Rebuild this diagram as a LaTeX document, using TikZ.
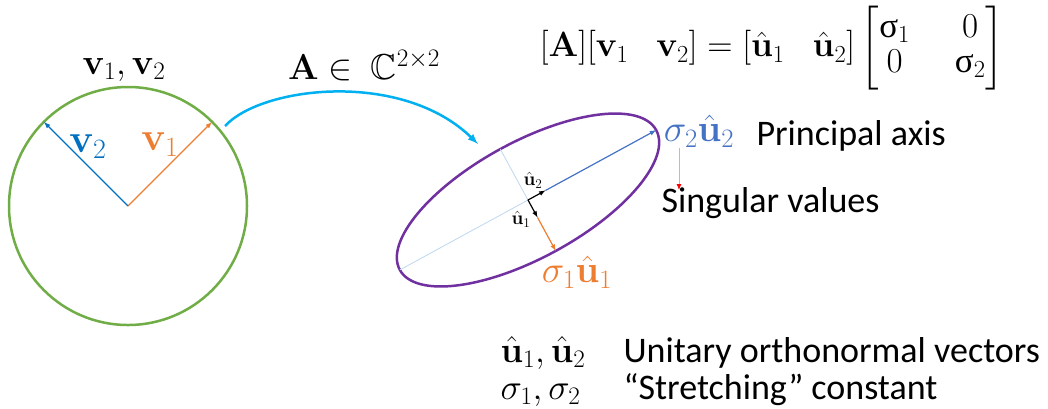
\documentclass[tikz,border=0pt]{standalone}
\usepackage{fix-cm}
\usepackage{amsmath}
\usepackage{amssymb}
\usepackage[no-math]{fontspec}
\setmainfont{Carlito}
\newfontfamily\greekserif{Liberation Serif}
\usetikzlibrary{calc}
\usetikzlibrary{arrows.meta}

\definecolor{cgreen}{HTML}{70AD47}
\definecolor{cblue}{HTML}{0070C0}
\definecolor{cbluetwo}{HTML}{4472C4}
\definecolor{corange}{HTML}{ED7D31}
\definecolor{ccyan}{HTML}{00B0F0}
\definecolor{cpurple}{HTML}{7030A0}
\definecolor{clight}{HTML}{BDD7EE}
\definecolor{cpink}{HTML}{FF9F9F}

\newcommand{\fs}[1]{\fontsize{#1}{#1}\selectfont}
\newcommand{\usig}{\text{\greekserif σ}}

\begin{document}
\begin{tikzpicture}[x=1pt, y=-1pt]
    \useasboundingbox (0,0) rectangle (1048,408);
    
    % circle with the two input vectors
    \coordinate (O) at (128, 206);
    \coordinate (V1) at ($(O)+(84,-84)$);
    \coordinate (V2) at ($(O)+(-84,-84)$);
    \draw[cgreen, line width=2.5pt] (O) circle (119pt);
    \draw[corange, line width=1.2pt, -latex] (O) -- (V1);
    \draw[cblue, line width=1.2pt, -latex] (O) -- (V2);
    \node[corange, font=\fs{40}] (v1lbl) at (160,145) {$\mathbf{v}_1$};
    \node[cblue, font=\fs{40}] (v2lbl) at (88,147) {$\mathbf{v}_2$};
    \node[font=\fs{36}] (vlbl) at (124,70) {$\mathbf{v}_1, \mathbf{v}_2$};
    
    % mapping arrow
    \coordinate (P) at (225, 126);
    \coordinate (Q) at (478, 144);
    \draw[ccyan, line width=2.5pt, -latex] (P) .. controls (262,86) and (402,70) .. (Q);
    \node[font=\fs{36}] (albl) at (364,66) {$\mathbf{A}\in\ \mathbb{C}^{2\times 2}$};
    
    % ellipse with the output vectors
    \begin{scope}[shift={(528,200)}, rotate=28.6]
        \coordinate (E) at (0,0);
        \coordinate (M1) at (146,0);
        \coordinate (M2) at (-146,0);
        \coordinate (N1) at (0,-58);
        \coordinate (N2) at (0,58);
        \coordinate (U1) at (0,20);
        \coordinate (U2) at (20,0);
        \draw[cpurple, line width=2.5pt] (E) ellipse [x radius=146pt, y radius=58pt];
        \draw[clight, line width=0.8pt] (M2) -- (E) -- (N1);
        \draw[cbluetwo, line width=1.2pt, -latex] (U2) -- (M1);
        \draw[corange, line width=1.2pt, -latex] (U1) -- (N2);
        \draw[black, line width=1.2pt, -latex] (E) -- (U2);
        \draw[black, line width=1.2pt, -latex] (E) -- (U1);
    \end{scope}
    \node[font=\fs{19}] (u2lbl) at (533,180) {$\hat{\mathbf{u}}_2$};
    \node[font=\fs{19}] (u1lbl) at (521,219) {$\hat{\mathbf{u}}_1$};
    \node[corange, font=\fs{38}] (s1u1) at (577,272) {$\sigma_1\hat{\mathbf{u}}_1$};
    \node[cbluetwo, font=\fs{38}] (s2u2) at (699,131) {$\sigma_2\hat{\mathbf{u}}_2$};
    \node[anchor=base west, font=\fs{36}] (paxis) at (753,145) {Principal axis};
    \node[anchor=base west, font=\fs{36}] (svals) at (658,212) {Singular values};
    \coordinate (R1) at (679,148);
    \coordinate (R2) at (679,190);
    \draw[cpink, line width=0.8pt, -{Latex[color=red, length=6pt, width=5pt]}] (R1) -- (R2);
    
    % decomposition
    \node[font=\fs{35}] (eqn) at (772,48) {$[\mathbf{A}][\mathbf{v}_1\hspace{0.8em} \mathbf{v}_2] = [\hat{\mathbf{u}}_1\hspace{0.8em} \hat{\mathbf{u}}_2]\begin{bmatrix}\usig_1 & \quad 0\\ 0 & \quad\usig_2\end{bmatrix}$};
    
    % legend
    \node[anchor=base west, font=\fs{36}] (leg1m) at (497,362) {$\hat{\mathbf{u}}_1, \hat{\mathbf{u}}_2$};
    \node[anchor=base west, font=\fs{36}] (leg1t) at (620,362) {Unitary orthonormal vectors};
    \node[anchor=base west, font=\fs{36}] (leg2m) at (497,399) {$\sigma_1, \sigma_2$};
    \node[anchor=base west, font=\fs{36}] (leg2t) at (620,399) {“Stretching” constant};
\end{tikzpicture}
\end{document}
